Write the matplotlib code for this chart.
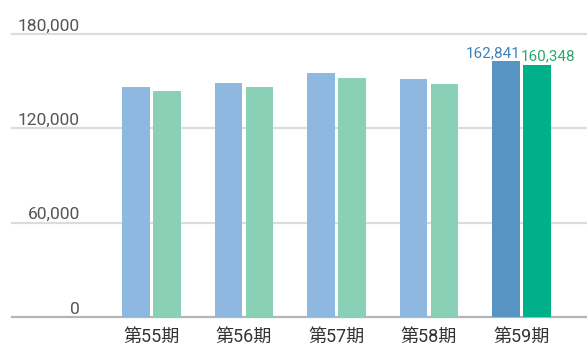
import matplotlib.pyplot as plt
import numpy as np

periods = ["第55期", "第56期", "第57期", "第58期", "第59期"]
series_a = [146300, 148800, 155200, 151400, 162841]
series_b = [143700, 146300, 152000, 148200, 160348]
y_ticks = [0, 60000, 120000, 180000]

plt.rcParams["font.family"] = ["Roboto", "Noto Sans CJK JP", "DejaVu Sans"]

fig = plt.figure(figsize=(5.87, 3.45), dpi=100)
ax = fig.add_axes([12 / 587, 28 / 345, 575 / 587, 283 / 345])

x = np.arange(len(periods))
w = 0.30
off = 0.168
col_a = ["#8fb8e1"] * 4 + ["#5794c4"]
col_b = ["#8ad0b6"] * 4 + ["#00b08b"]
ax.bar(x - off, series_a, width=w, color=col_a, zorder=3)
ax.bar(x + off, series_b, width=w, color=col_b, zorder=3)

ax.set_xlim(-1.508, 4.708)
ax.set_ylim(0, 180000)

# gridlines with labels sitting just above them
for t in y_ticks:
    lc = "#b5b5b5" if t == 0 else "#dcdcdc"
    ax.axhline(t, color=lc, lw=1.6, zorder=1, clip_on=False)
    ax.annotate(f"{t:,}", xy=(80, t), xycoords=("figure pixels", "data"),
                xytext=(0, 2.5), textcoords="offset points", ha="right", va="baseline",
                fontsize=12.5, color="#555555", annotation_clip=False)

for i, p in enumerate(periods):
    ax.annotate(p, xy=(i, 0), xytext=(0, -8), textcoords="offset points",
                ha="center", va="top", fontsize=13, color="#333333",
                annotation_clip=False)

ax.annotate(f"{series_a[-1]:,}", xy=(4 - off, series_a[-1]), xytext=(-9, 3),
            textcoords="offset points", ha="center", va="baseline",
            fontsize=11, color="#3f82b8")
ax.annotate(f"{series_b[-1]:,}", xy=(4 + off, series_b[-1]), xytext=(8, 3),
            textcoords="offset points", ha="center", va="baseline",
            fontsize=11, color="#2ea672")

ax.set_xticks([])
ax.set_yticks([])
for s in ax.spines.values():
    s.set_visible(False)

fig.savefig("out.png", dpi=100)
